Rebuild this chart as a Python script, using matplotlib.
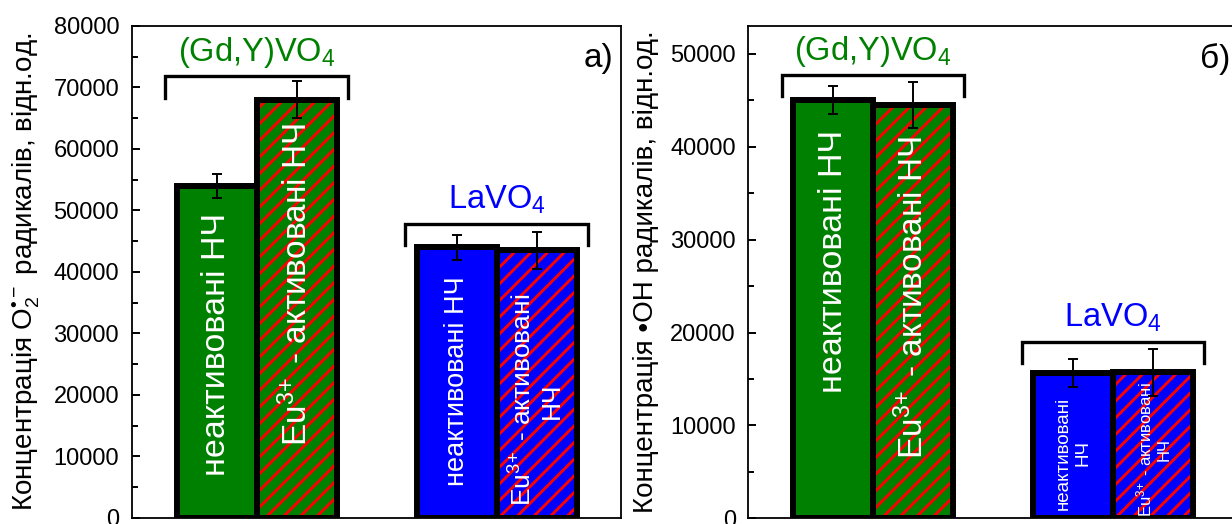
import matplotlib
matplotlib.use('Agg')
import matplotlib.pyplot as plt
from matplotlib.ticker import MultipleLocator

plt.rcParams['font.family'] = ['Liberation Sans', 'DejaVu Sans']
plt.rcParams['mathtext.fontset'] = 'custom'
plt.rcParams['mathtext.rm'] = 'Liberation Sans'
plt.rcParams['mathtext.it'] = 'Liberation Sans:italic'
plt.rcParams['mathtext.bf'] = 'Liberation Sans:bold'
plt.rcParams['hatch.linewidth'] = 2.1

GREEN = '#008000'
BLUE = '#0000ff'
RED = '#ff0000'

# data
materials = ['(Gd,Y)VO$_4$', 'LaVO$_4$']
material_colors = [GREEN, BLUE]
hatched = [False, True]   # undoped / Eu3+ doped

o2_vals = [[54000, 68000], [44000, 43500]]
o2_err = [[2000, 3000], [2000, 3000]]
oh_vals = [[45000, 44500], [15600, 15700]]
oh_err = [[1500, 2500], [1500, 2500]]

undoped = 'неактивовані НЧ'
doped = 'Eu$^{3\\!+}$ - активовані НЧ'

panels = [
    dict(vals=o2_vals, err=o2_err, ymax=80000, letter='а)',
         ylabel='Концентрація O$_2^{\u2022 -}$ радикалів, відн.од.',
         brackets=[71800, 47800],
         texts=[(undoped, 24.5, 28250), (doped, 24, 38000),
                (undoped, 19.5, 22200), ('Eu$^{3\\!+}$ - активовані\nНЧ', 19, 19100)],
         pos=[0.1069, 0.0120, 0.3969, 0.9384]),
    dict(vals=oh_vals, err=oh_err, ymax=53000, letter='б)',
         ylabel='Концентрація \u2022OH радикалів, відн.од.',
         brackets=[47700, 19000],
         texts=[(undoped, 24.5, 27700), (doped, 24, 23800),
                ('неактивовані\nНЧ', 13.5, 7030), ('Eu$^{3\\!+}$ - активовані\nНЧ', 12, 7400)],
         pos=[0.6074, 0.0109, 0.3969, 0.9395]),
]

group_centres = [1.5, 4.5]
offsets = [-0.5, 0.5]

fig = plt.figure(figsize=(12.32, 5.24), dpi=100)

for p in panels:
    ax = fig.add_axes(p['pos'])
    k = 0
    for g, gc in enumerate(group_centres):
        col = material_colors[g]
        for j, off in enumerate(offsets):
            x = gc + off
            v = p['vals'][g][j]
            ax.bar(x, v, width=1.0, color=col, linewidth=0, zorder=2)
            if hatched[j]:
                ax.bar(x, v, width=1.0, facecolor='none', edgecolor=RED,
                       linewidth=0, hatch='//', zorder=3)
            ax.bar(x, v, width=1.0, facecolor='none', edgecolor='black',
                   linewidth=4.3, zorder=4)
            ax.errorbar(x, v, yerr=p['err'][g][j], fmt='none', ecolor='black',
                        elinewidth=1.4, capsize=3.6, capthick=1.4, zorder=6)
            s, fs, ty = p['texts'][k]
            ax.text(x, ty, s, rotation=90, ha='center', va='center',
                    multialignment='center', color='white', fontsize=fs, zorder=5)
            k += 1
        # bracket over the group
        lev = p['brackets'][g]
        drop = 0.043 * p['ymax']
        x0, x1 = gc - 1.14, gc + 1.14
        ax.plot([x0, x0, x1, x1], [lev - drop, lev, lev, lev - drop],
                color='black', lw=2.4, solid_joinstyle='miter', zorder=5)
        ax.annotate(materials[g], (gc, lev), xytext=(0, 11), textcoords='offset points',
                    ha='center', va='baseline', color=col, fontsize=23.5)

    ax.set_xlim(-0.06, 6.05)
    ax.set_ylim(0, p['ymax'])
    ax.set_xticks([])
    ax.yaxis.set_major_locator(MultipleLocator(10000))
    ax.yaxis.set_minor_locator(MultipleLocator(5000))
    ax.tick_params(axis='y', which='both', direction='in', width=1.4, labelsize=17, pad=9)
    ax.tick_params(axis='y', which='major', length=6)
    ax.tick_params(axis='y', which='minor', length=4.5)
    for sp in ax.spines.values():
        sp.set_linewidth(1.3)
    ax.set_ylabel(p['ylabel'], fontsize=20, labelpad=8)
    ax.text(0.985, 0.965, p['letter'], transform=ax.transAxes, ha='right', va='top',
            fontsize=24)

fig.savefig('out.png', dpi=100)
